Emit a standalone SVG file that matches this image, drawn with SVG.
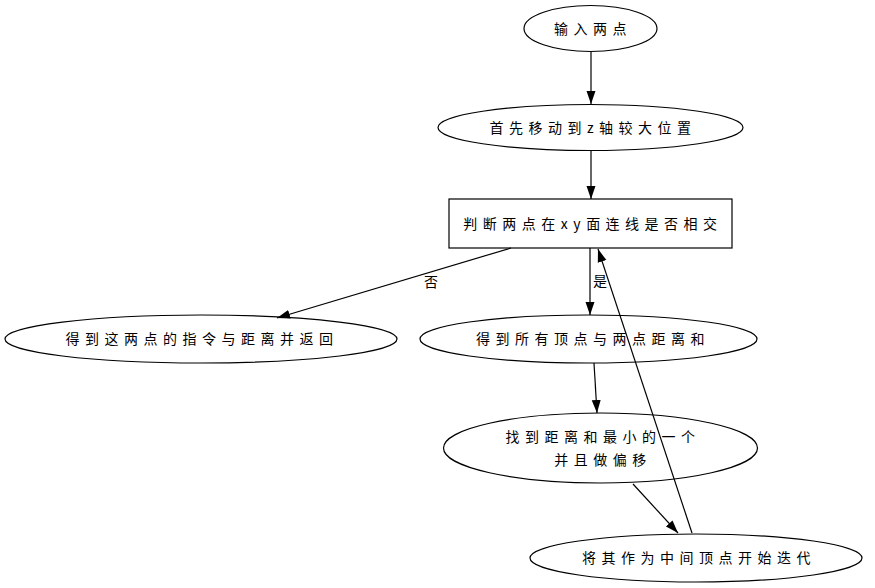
<svg xmlns="http://www.w3.org/2000/svg" width="875" height="588" viewBox="0 0 875 588">
<style>
.n{fill:#fff;stroke:#000;stroke-width:1.2}
.t{font-family:"Noto Sans CJK SC","DejaVu Sans",sans-serif;font-size:14px;letter-spacing:5.5px;text-anchor:middle;fill:#000}
.e{stroke:#000;stroke-width:1.2;fill:none}
.l{font-family:"Noto Sans CJK SC",sans-serif;font-size:14px;fill:#000}
</style>
<defs>
<marker id="a" markerWidth="14" markerHeight="10" refX="13" refY="5" orient="auto" markerUnits="userSpaceOnUse">
<path d="M0,0.5 L13,5 L0,9.5 Z" fill="#000"/>
</marker>
</defs>
<rect width="875" height="588" fill="#fff"/>
<g id="n1"><ellipse class="n" cx="590.5" cy="28.5" rx="66.5" ry="23"/><text class="t" x="593" y="33.5">输入两点</text></g>
<g id="n2"><ellipse class="n" cx="590.5" cy="127.5" rx="152.5" ry="23"/><text class="t" x="593" y="132.5">首先移动到z轴较大位置</text></g>
<g id="n3"><rect class="n" x="449" y="199" width="283" height="49"/><text class="t" x="593" y="228.5">判断两点在xy面连线是否相交</text></g>
<g id="n4"><ellipse class="n" cx="201" cy="339" rx="196" ry="24"/><text class="t" x="202" y="344">得到这两点的指令与距离并返回</text></g>
<g id="n5"><ellipse class="n" cx="588.5" cy="339" rx="168.5" ry="24"/><text class="t" x="593" y="344">得到所有顶点与两点距离和</text></g>
<g id="n6"><ellipse class="n" cx="600.5" cy="448" rx="157" ry="35"/><text class="t" x="603" y="442">找到距离和最小的一个</text><text class="t" x="603" y="465">并且做偏移</text></g>
<g id="n7"><ellipse class="n" cx="696" cy="558" rx="166" ry="24"/><text class="t" x="699" y="563">将其作为中间顶点开始迭代</text></g>
<g id="connectors">
<line class="e" x1="591" y1="52" x2="591" y2="104" marker-end="url(#a)"/>
<line class="e" x1="591" y1="151" x2="591" y2="199" marker-end="url(#a)"/>
<line class="e" x1="511" y1="248" x2="277" y2="318" marker-end="url(#a)"/>
<text class="l" x="424" y="287">否</text>
<line class="e" x1="590" y1="248" x2="590" y2="315" marker-end="url(#a)"/>
<text class="l" x="593" y="286">是</text>
<line class="e" x1="594" y1="363" x2="597" y2="413" marker-end="url(#a)"/>
<line class="e" x1="633" y1="484" x2="678" y2="533" marker-end="url(#a)"/>
<line class="e" x1="692" y1="533" x2="598" y2="249" marker-end="url(#a)"/>
</g>
</svg>
